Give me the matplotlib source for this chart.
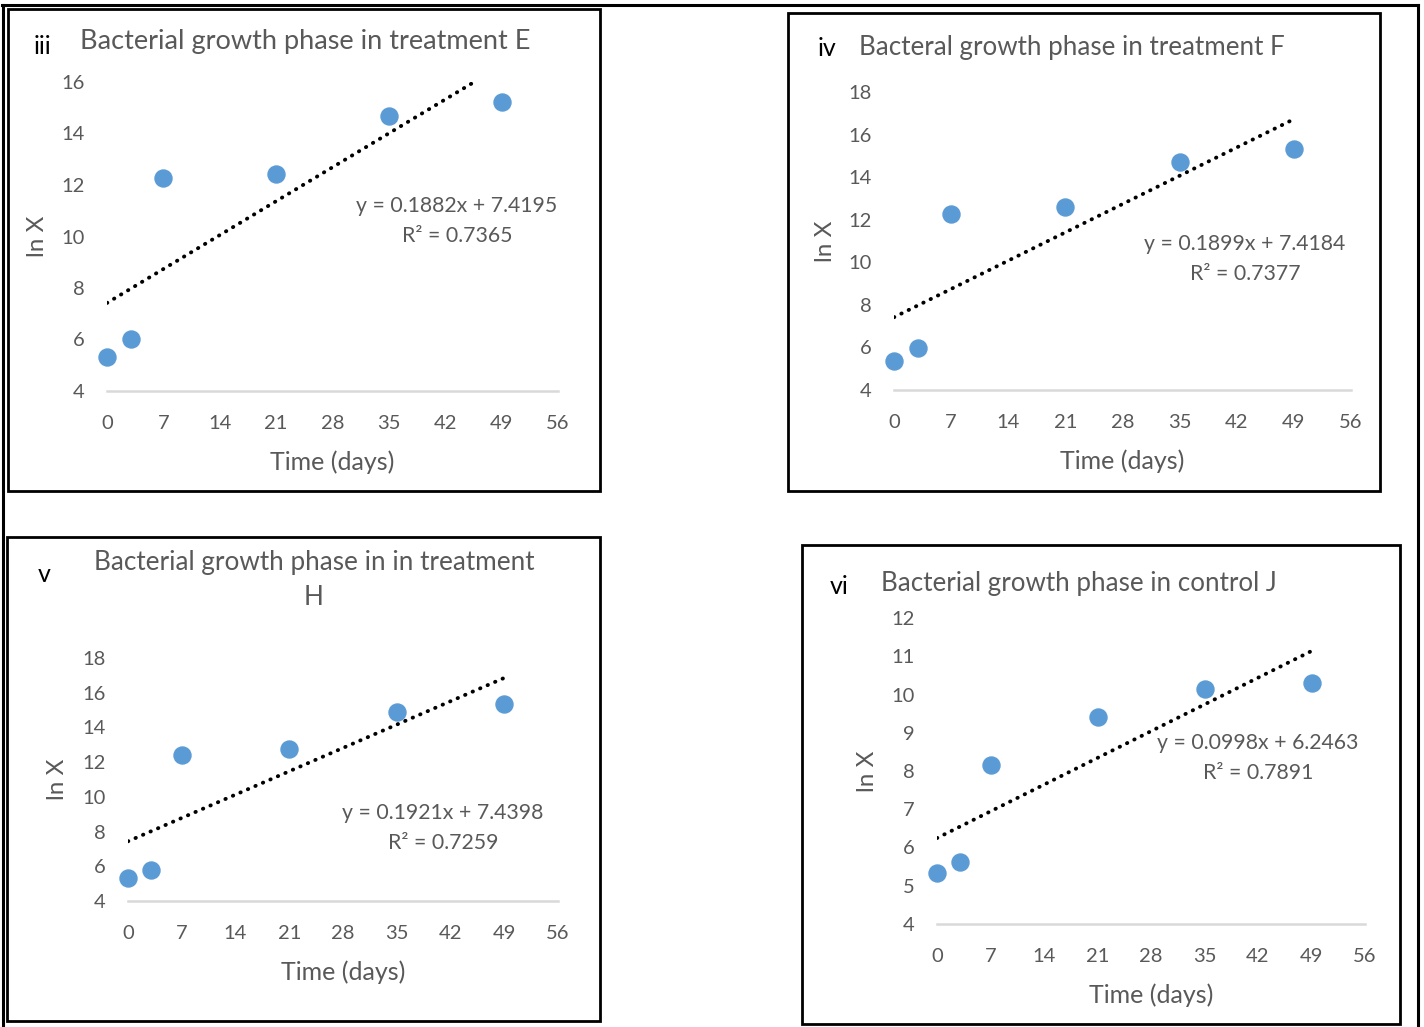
import numpy as np
import matplotlib.pyplot as plt
from matplotlib.patches import Rectangle
from matplotlib.lines import Line2D

W, H = 1424, 1027

# sampling days and ln X values per treatment
days = [0, 3, 7, 21, 35, 49]
lnx_e = [5.32, 6.02, 12.27, 12.43, 14.68, 15.22]
lnx_f = [5.36, 5.97, 12.27, 12.60, 14.71, 15.32]
lnx_h = [5.32, 5.79, 12.41, 12.76, 14.89, 15.35]
lnx_j = [5.33, 5.62, 8.16, 9.41, 10.14, 10.30]

# linear trend coefficients (slope, intercept, R^2)
fit_e = (0.1882, 7.4195, 0.7365)
fit_f = (0.1899, 7.4184, 0.7377)
fit_h = (0.1921, 7.4398, 0.7259)
fit_j = (0.0998, 6.2463, 0.7891)

titles = ["Bacterial growth phase in treatment E",
          "Bacteral growth phase in treatment F",
          "Bacterial growth phase in in treatment\nH",
          "Bacterial growth phase in control J"]
numerals = ["iii", "iv", "v", "vi"]
yticks = [np.arange(4, 17, 2), np.arange(4, 19, 2), np.arange(4, 19, 2), np.arange(4, 13, 1)]
xticks = np.arange(0, 57, 7)

GREY = "#595959"
BLUE = "#5B9BD5"
FONT = "Lato"

plt.rcParams['font.family'] = [FONT, 'DejaVu Sans']

fig = plt.figure(figsize=(W / 100, H / 100), dpi=100)


def fx(px):
    return px / W


def fy(py):
    return 1 - py / H


def box(x0, y0, x1, y1, lw=2.0):
    fig.patches.append(Rectangle((fx(x0), fy(y1)), fx(x1) - fx(x0), fy(y0) - fy(y1),
                                 transform=fig.transFigure, fill=False,
                                 edgecolor="black", linewidth=lw))


def panel(frame, axbox, data, fit, yt, title, title_xy, title_fs, num, num_xy,
          ylab_x, xlab_y, eq_xy):
    box(*frame)
    x0, y0, x1, y1 = axbox
    ax = fig.add_axes([fx(x0), fy(y1), fx(x1) - fx(x0), fy(y0) - fy(y1)])
    ax.set_xlim(0, 56)
    ax.set_ylim(yt[0], yt[-1])
    ax.set_xticks(xticks)
    ax.set_yticks(yt)
    for s in ["top", "right", "left"]:
        ax.spines[s].set_visible(False)
    ax.spines["bottom"].set_color("#D9D9D9")
    ax.spines["bottom"].set_linewidth(1.8)
    ax.tick_params(length=0, labelsize=14.5, labelcolor=GREY)
    ax.tick_params(axis="x", pad=17)
    ax.tick_params(axis="y", pad=16)
    ax.patch.set_alpha(0)

    slope, icpt, r2 = fit
    xt = np.array([0, 49])
    ax.plot(xt, slope * xt + icpt, color="black", linewidth=2.8,
            linestyle=(0, (0.1, 2.0)), dash_capstyle="round", zorder=2)
    ax.scatter(days, data, s=150, color=BLUE, zorder=3, clip_on=False)

    fig.text(fx(title_xy[0]), fy(title_xy[1]), title, ha="center", va="center",
             fontsize=title_fs, color=GREY, linespacing=1.5)
    fig.text(fx(num_xy[0]), fy(num_xy[1]), num, ha="center", va="center",
             fontsize=18, color="black")
    fig.text(fx(ylab_x), fy((y0 + y1) / 2), "ln X", rotation=90, ha="center",
             va="center", fontsize=17.5, color=GREY)
    fig.text(fx((x0 + x1) / 2), fy(xlab_y), "Time (days)", ha="center",
             va="center", fontsize=18, color=GREY)
    fig.text(fx(eq_xy[0]), fy(eq_xy[1]),
             "y = %.4fx + %.4f\nR² = %.4f" % (slope, icpt, r2),
             ha="center", va="center", fontsize=15.3, color=GREY, linespacing=1.6)


panel((8, 9, 600, 491), (107, 82, 558, 391), lnx_e, fit_e, yticks[0],
      titles[0], (305, 41), 19.5, numerals[0], (42, 46), 38, 462, (457, 221))
panel((788, 13, 1380, 491), (894, 92, 1351, 390), lnx_f, fit_f, yticks[1],
      titles[1], (1072, 47), 18.7, numerals[1], (827, 49), 826, 461, (1245, 259))
panel((7, 537, 600, 1021), (128, 658, 558, 901), lnx_h, fit_h, yticks[2],
      titles[2], (314, 580), 18.8, numerals[2], (44, 575), 58, 972, (443, 828))
panel((802, 545, 1400, 1024), (937, 618, 1365, 924), lnx_j, fit_j, yticks[3],
      titles[3], (1079, 584), 18.7, numerals[3], (839, 587), 868, 995, (1258, 758))

# outer frame: top, left and right edges
for xs, ys in [((2, 1418), (5, 5)), ((3, 3), (5, 1027)), ((1418, 1418), (5, 1027))]:
    fig.add_artist(Line2D([fx(xs[0]), fx(xs[1])], [fy(ys[0]), fy(ys[1])],
                          transform=fig.transFigure, color="black", linewidth=2.2))

fig.savefig("out.png", dpi=100)
